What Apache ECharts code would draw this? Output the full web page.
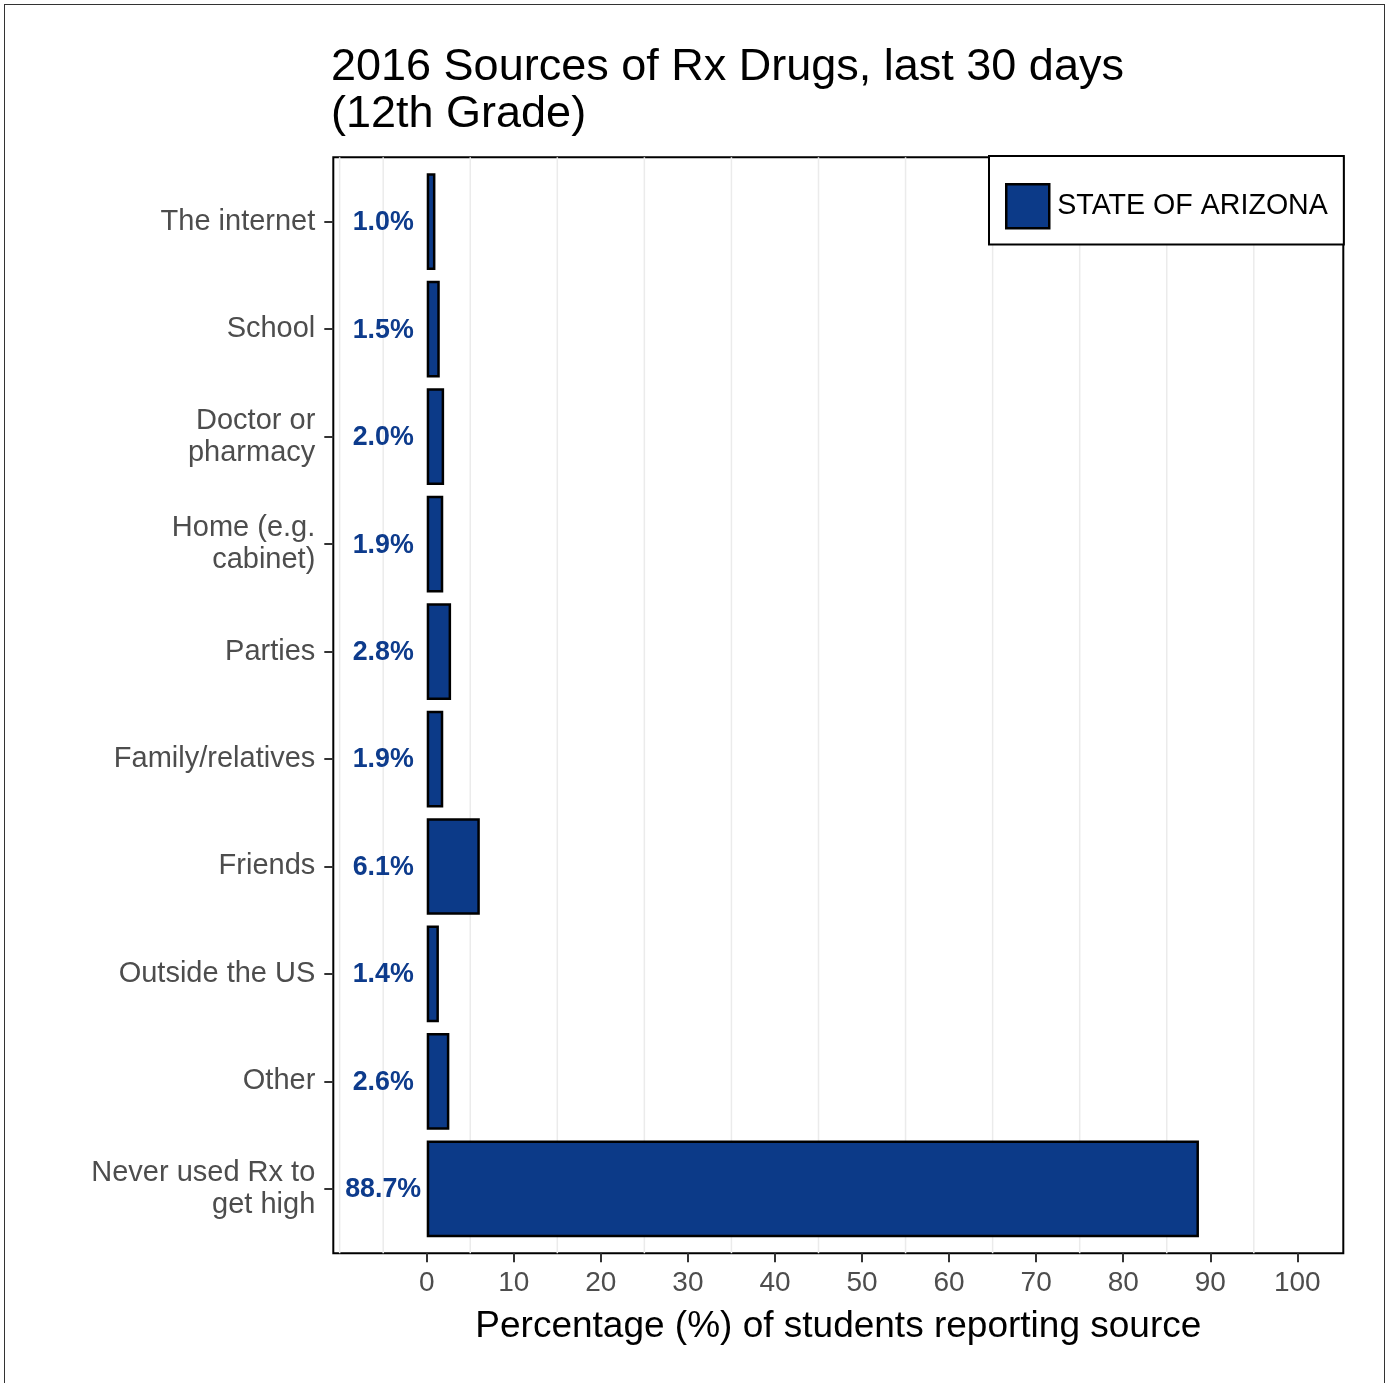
<!DOCTYPE html>
<html>
<head>
<meta charset="utf-8">
<title>2016 Sources of Rx Drugs, last 30 days (12th Grade)</title>
<script src="https://cdn.jsdelivr.net/npm/echarts@6/dist/echarts.min.js"></script>
<style>
  html, body { margin: 0; padding: 0; background: #fff; overflow: hidden; }
  #frame { position: absolute; left: 4px; top: 4px; width: 1381px; height: 1420px;
           border: 1.5px solid #333; box-sizing: border-box; }
  #chart { position: absolute; left: 0; top: 0; width: 1390px; height: 1383px; }
</style>
</head>
<body>
<div id="frame"></div>
<div id="chart"></div>
<script>
// Sources of prescription drugs reported by 12th graders (percent)
const categories = [
  'The internet',
  'School',
  'Doctor or\npharmacy',
  'Home (e.g.\ncabinet)',
  'Parties',
  'Family/relatives',
  'Friends',
  'Outside the US',
  'Other',
  'Never used Rx to\nget high'
];
const arizona = [1.0, 1.5, 2.0, 1.9, 2.8, 1.9, 6.1, 1.4, 2.6, 88.7];
const seriesName = 'STATE OF ARIZONA';

// x axis ticks and the light vertical guide lines
const xTicks = [0, 10, 20, 30, 40, 50, 60, 70, 80, 90, 100];
const guideLines = [-10, -5, 5, 15, 25, 35, 45, 55, 65, 75, 85, 95];

const xMin = -10.73, xMax = 105.28;
const labelX = -5;   // value labels sit centred at this x position

const FONT = "'Liberation Sans', Arial, Helvetica, sans-serif";
const BAR_COLOR = '#0C3A88';

const chart = echarts.init(document.getElementById('chart'), null, { renderer: 'canvas' });

chart.setOption({
  animation: false,
  backgroundColor: 'transparent',
  textStyle: { fontFamily: FONT },
  title: {
    text: '2016 Sources of Rx Drugs, last 30 days\n(12th Grade)',
    left: 331,
    top: 44,
    padding: 0,
    textStyle: { fontFamily: FONT, fontSize: 45, fontWeight: 'normal', color: '#000', lineHeight: 47 }
  },
  legend: {
    data: [seriesName],
    left: 989,
    top: 156,
    orient: 'vertical',
    padding: [27, 16, 15, 16],
    backgroundColor: '#fff',
    borderColor: '#000',
    borderWidth: 2,
    borderRadius: 0,
    itemWidth: 43,
    itemHeight: 44,
    icon: 'rect',
    itemStyle: { color: BAR_COLOR, borderColor: '#000', borderWidth: 2.5 },
    textStyle: { fontFamily: FONT, fontSize: 28.6, color: '#000', padding: [6, 0, 0, 3] }
  },
  grid: [
    // bar area: the category bands inset by 0.1 band at top and bottom
    { left: 333.3, right: 46.7, top: 168, bottom: 140.4, containLabel: false },
    // panel frame, guide lines and x axis
    { left: 333.3, right: 46.7, top: 157.3, bottom: 129.7, containLabel: false,
      show: true, borderColor: '#000', borderWidth: 2, backgroundColor: 'transparent', z: 0 }
  ],
  xAxis: [
    { gridIndex: 0, type: 'value', min: xMin, max: xMax, show: false, splitLine: { show: false } },
    {
      gridIndex: 1, type: 'value', min: xMin, max: xMax,
      axisLine: { show: false, onZero: false },
      splitLine: { show: false },
      axisTick: { show: true, length: 9, customValues: xTicks, lineStyle: { color: '#333', width: 2 } },
      axisLabel: { customValues: xTicks, margin: 16, fontSize: 28, color: '#4d4d4d', fontFamily: FONT },
      name: 'Percentage (%) of students reporting source',
      nameLocation: 'middle',
      nameGap: 55,
      nameTextStyle: { fontSize: 37, color: '#000', fontFamily: FONT, verticalAlign: 'top' }
    }
  ],
  yAxis: [
    {
      gridIndex: 0, type: 'category', data: categories, inverse: true,
      position: 'left',
      axisLine: { show: false, onZero: false },
      splitLine: { show: false },
      axisTick: { show: true, alignWithLabel: true, length: 9, lineStyle: { color: '#333', width: 2 } },
      axisLabel: { margin: 18, fontSize: 29, lineHeight: 32, color: '#4d4d4d', fontFamily: FONT,
                   align: 'right', padding: [10, 0, 0, 0] }
    },
    { gridIndex: 1, type: 'value', min: 0, max: 1, show: false, splitLine: { show: false } }
  ],
  series: [
    {
      type: 'custom',
      xAxisIndex: 1, yAxisIndex: 1,
      z: 0,
      silent: true,
      data: guideLines.map(v => [v]),
      encode: { x: 0 },
      renderItem: function (params, api) {
        const v = api.value(0);
        const p0 = api.coord([v, 0]);
        const p1 = api.coord([v, 1]);
        return {
          type: 'line',
          shape: { x1: p0[0], y1: p0[1], x2: p1[0], y2: p1[1] },
          style: { stroke: '#ebebeb', lineWidth: 1.5 }
        };
      }
    },
    {
      name: seriesName,
      type: 'bar',
      xAxisIndex: 0, yAxisIndex: 0,
      data: arizona,
      barWidth: '90%',
      z: 3,
      itemStyle: { color: BAR_COLOR, borderColor: '#000', borderWidth: 2.5 }
    },
    {
      // value labels, placed at a fixed x position left of the bars
      type: 'scatter',
      xAxisIndex: 0, yAxisIndex: 0,
      symbolSize: 0,
      silent: true,
      z: 4,
      itemStyle: { opacity: 1 },
      data: arizona.map((v, i) => [labelX, i, v]),
      label: {
        show: true,
        position: 'inside',
        align: 'center',
        verticalAlign: 'middle',
        offset: [0, 1],
        fontFamily: FONT,
        fontSize: 26.8,
        fontWeight: 'bold',
        color: '#0D3B8C',
        formatter: p => p.value[2].toFixed(1) + '%'
      }
    }
  ]
});
</script>
</body>
</html>
